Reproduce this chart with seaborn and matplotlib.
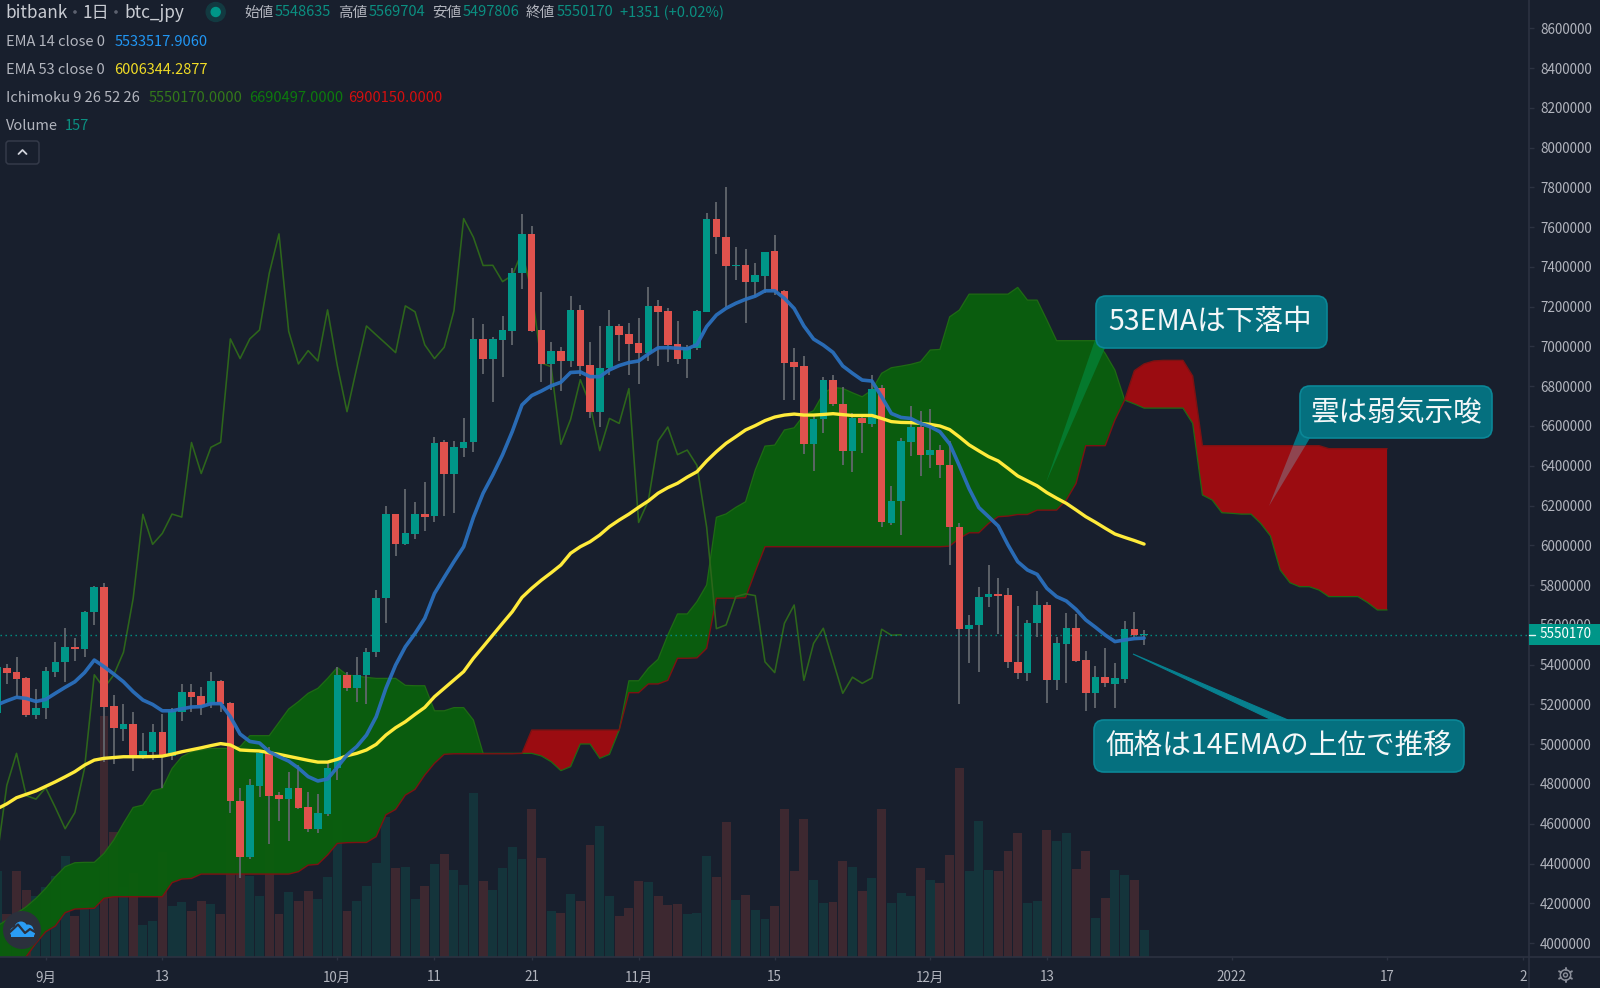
import numpy as np
import pandas as pd
import matplotlib
matplotlib.use("Agg")
import matplotlib.pyplot as plt
from matplotlib.patches import FancyBboxPatch, Polygon, Circle, Rectangle
from matplotlib.lines import Line2D
from matplotlib.transforms import IdentityTransform
import seaborn as sns

first_day = -5  # days relative to 1 Sep 2021
opens = [5155,5381,5361,5333,5147,5180,5365,5411,5487,5479,5665,5790,5192,5078,5101,4937,4962,5061,4942,5163,
 5262,5240,5202,5316,5205,4714,4434,4790,4954,4743,4726,4781,4682,4572,4649,4878,5349,5282,5348,5462,
 5733,6156,6005,6057,6157,6145,6520,6361,6488,6518,7038,6939,7034,7080,7368,7566,7083,6912,6979,6927,
 7184,6909,6672,6892,7103,7061,7016,6966,7204,7177,7011,6939,6994,7175,7643,7552,7403,7409,7326,7356,
 7478,7280,6922,6901,6508,6633,6833,6712,6476,6638,6610,6789,6110,6221,6521,6595,6456,6477,6406,6092,
 5581,5600,5739,5749,5750,5415,5360,5608,5700,5321,5502,5586,5422,5256,5337,5303,5330,5578,5548.6]
highs = [5400,5403,5440,5339,5276,5390,5514,5582,5532,5671,5795,5809,5247,5202,5163,5055,5101,5150,5180,5303,
 5301,5289,5361,5323,5214,4778,4827,4962,4984,4758,4862,4895,4758,4748,4909,5386,5365,5440,5482,5775,
 6198,6160,6282,6220,6320,6543,6530,6527,6639,7142,7113,7050,7153,7393,7666,7606,7272,7021,6996,7254,
 7209,7024,7103,7184,7113,7117,7142,7298,7234,7194,7127,7008,7184,7670,7725,7803,7499,7490,7421,7476,
 7558,7284,6992,6953,6650,6845,6855,6794,6664,6650,6856,6804,6300,6538,6700,6677,6684,6504,6527,6111,
 5650,5789,5901,5838,5784,5697,5625,5769,5714,5538,5658,5653,5471,5394,5486,5407,5621,5663,5575]
lows = [5140,5302,5239,5135,5125,5128,5339,5314,5418,5440,5599,4909,4899,5018,4863,4927,4922,4778,4920,5116,
 5163,5148,5180,5162,4656,4329,4423,4736,4498,4614,4515,4672,4557,4552,4639,4818,5269,5214,5202,5440,
 5611,5948,6001,6032,6074,6119,6148,6165,6446,6471,6862,6723,6848,7008,7288,7071,6823,6781,6778,6899,
 6853,6639,6597,6857,6929,6857,6811,6929,6902,6922,6912,6843,6983,7175,7465,7197,7334,7119,7250,7267,
 7259,6731,6731,6459,6375,6563,6700,6404,6370,6462,6596,6094,6102,6052,6449,6348,6387,6340,5901,5201,
 5410,5362,5689,5553,5385,5326,5320,5541,5209,5273,5310,5412,5169,5184,5290,5181,5306,5538,5497.8]
closes = [5386,5360,5329,5147,5180,5368,5415,5487,5479,5665,5790,5189,5080,5100,4937,4964,5061,4942,5167,5261,
 5237,5199,5316,5202,4713,4434,4793,4954,4741,4724,4781,4681,4575,4656,4880,5349,5282,5348,5462,5733,
 6156,6005,6060,6157,6142,6517,6361,6493,6518,7038,6939,7038,7083,7368,7566,7076,6912,6979,6927,7184,
 6904,6672,6892,7103,7058,7014,6969,7204,7174,7008,6939,6996,7179,7643,7549,7407,7408,7326,7357,7475,
 7277,6917,6898,6508,6633,6833,6709,6476,6638,6613,6788,6115,6224,6524,6595,6456,6479,6402,6091,5581,
 5600,5742,5756,5747,5414,5360,5608,5700,5321,5507,5583,5419,5256,5337,5306,5333,5578,5548,5550.17]
volumes = [510,255,506,396,357,412,480,598,239,327,533,1421,735,412,494,186,210,617,298,323,
 274,333,310,251,843,608,480,357,886,251,386,329,392,343,474,808,270,329,416,553,
 827,523,531,345,421,551,610,514,427,970,451,396,527,647,580,872,584,274,259,372,
 333,662,772,357,239,290,451,445,361,304,310,251,259,596,474,798,337,363,280,225,
 298,876,506,813,457,318,327,568,533,388,468,874,316,380,357,525,457,437,604,1113,
 510,804,515,506,623,733,321,333,747,686,729,521,627,231,351,515,486,457,157]
ema14 = [5198,5218,5236,5230,5215,5225,5256,5286,5314,5360,5423,5390,5353,5314,5264,5222,5200,5168,5168,5178,
 5187,5189,5204,5204,5138,5051,5014,5006,4962,4937,4915,4880,4837,4815,4825,4884,4946,4988,5046,5138,
 5281,5398,5490,5557,5633,5758,5839,5918,5993,6140,6262,6354,6455,6572,6706,6753,6776,6802,6820,6869,
 6872,6848,6848,6882,6904,6919,6927,6962,6993,6994,6991,6988,7009,7100,7158,7192,7217,7237,7253,7280,
 7280,7242,7191,7103,7037,7007,6970,6902,6865,6831,6826,6747,6663,6643,6638,6613,6596,6571,6510,6400,
 6285,6190,6144,6097,6002,5918,5876,5854,5784,5742,5720,5678,5625,5588,5549,5516,5524,5531,5533.5]
ema53 = [4675,4700,4731,4748,4765,4788,4811,4836,4862,4895,4920,4929,4933,4937,4937,4937,4938,4940,4950,4962,
 4972,4982,4993,5003,4996,4971,4968,4966,4957,4949,4939,4929,4919,4910,4910,4924,4942,4954,4971,4999,
 5046,5083,5113,5150,5185,5239,5281,5323,5365,5432,5490,5549,5608,5666,5738,5784,5825,5862,5901,5960,
 5993,6018,6052,6094,6127,6157,6191,6223,6262,6290,6312,6343,6370,6424,6471,6513,6546,6580,6602,6627,
 6645,6655,6660,6655,6655,6658,6662,6657,6653,6653,6653,6638,6622,6618,6617,6613,6608,6600,6582,6545,
 6505,6475,6446,6424,6387,6349,6324,6299,6265,6237,6211,6178,6144,6116,6086,6057,6040,6024,6006.3]
chikou = [4434,4793,4954,4741,4724,4781,4681,4575,4656,4880,5349,5282,5348,5462,5733,6156,6005,6060,6157,6142,
 6517,6361,6493,6518,7038,6939,7038,7083,7368,7566,7076,6912,6979,6927,7184,6904,6672,6892,7103,7058,
 7014,6969,7204,7174,7008,6939,6996,7179,7643,7549,7407,7408,7326,7357,7475,7277,6917,6898,6508,6633,
 6833,6709,6476,6638,6613,6788,6115,6224,6524,6595,6456,6479,6402,6091,5581,5600,5742,5756,5747,5414,
 5360,5608,5700,5321,5507,5583,5419,5256,5337,5306,5333,5578,5548,5550.17]
span_a = [4086,4116,4149,4183,4225,4275,4334,4384,4404,4406,4406,4451,4518,4602,4682,4694,4766,4778,4878,4937,
 4962,4971,4979,4979,4979,4987,5043,5043,5043,5110,5177,5214,5256,5281,5331,5386,5348,5343,5336,5331,
 5331,5331,5296,5294,5294,5168,5168,5184,5184,5122,4954,4954,4954,4954,4954,4954,4941,4912,4867,4887,
 5001,5001,4929,4949,5071,5319,5319,5382,5427,5549,5655,5655,5717,5801,6141,6158,6191,6219,6379,6499,
 6504,6580,6591,6655,6677,6764,6794,6789,6767,6747,6781,6865,6893,6901,6910,6923,6982,6985,7149,7183,
 7263,7263,7263,7263,7263,7297,7233,7233,7133,7029,7029,7029,7029,7029,6965,6881,6730,6711,6690,6690,
 6690,6690,6690,6613,6253,6228,6164,6161,6157,6157,6110,6047,5876,5812,5792,5792,5775,5742,5742,5742,
 5742,5712,5675,5675]
span_b = [3780,3830,3880,3932,3999,4057,4086,4153,4171,4173,4175,4225,4233,4233,4233,4233,4233,4233,4304,4322,
 4325,4347,4347,4347,4347,4347,4347,4347,4347,4347,4347,4359,4392,4396,4443,4501,4505,4506,4506,4535,
 4645,4672,4744,4773,4845,4904,4949,4952,4952,4952,4952,4952,4952,4952,4954,5071,5071,5071,5071,5071,
 5071,5071,5071,5071,5071,5259,5259,5303,5303,5321,5432,5432,5434,5482,5734,5734,5734,5737,5868,5993,
 5993,5993,5993,5993,5993,5993,5993,5993,5993,5993,5993,5993,5993,5993,5993,5993,5993,5993,5996,6035,
 6063,6063,6110,6144,6147,6155,6155,6177,6177,6177,6228,6311,6501,6501,6501,6630,6730,6878,6912,6927,
 6930,6930,6930,6851,6501,6501,6501,6501,6501,6501,6501,6501,6501,6501,6501,6501,6501,6486,6486,6486,
 6486,6486,6486,6486]
price_ticks = list(range(4000000, 8600001, 200000))
date_tick_days = [0, 12, 30, 40, 50, 61, 75, 91, 103, 122, 138, 152]
date_tick_labels = ["9月", "13", "10月", "11", "21", "11月", "15", "12月", "13", "2022", "17", "2"]
last_price = 5550170

BG = "#181f2d"
LINE = "#2c3241"
TXT = "#b2b5be"
TEAL = "#009688"
RED = "#e0524d"
VT = "#14343b"
VR = "#3d2830"
GREEN = "#0a5f0d"
CRED = "#9b0c11"
BOX = "#05707f"
BOXE = "#0b8797"

sns.set_theme(style="dark", rc={"axes.facecolor": BG, "figure.facecolor": BG, "savefig.facecolor": BG,
                                "axes.grid": False})
plt.rcParams["font.family"] = ["Noto Sans CJK JP", "DejaVu Sans"]

W, H = 1600, 988
fig = plt.figure(figsize=(W / 100, H / 100), dpi=100)
rect = [0, (H - 957) / H, 1529 / W, 957 / H]
ax2 = fig.add_axes(rect, zorder=0)
ax = fig.add_axes(rect, zorder=1, sharex=ax2)
ax.patch.set_visible(False)

n = len(closes)
days = np.arange(first_day, first_day + n)
o, h, l, c = [np.array(a) * 1000 for a in (opens, highs, lows, closes)]
up = c >= o
cloud_days = np.arange(first_day, first_day + len(span_a))
a_s, b_s = np.array(span_a) * 1000, np.array(span_b) * 1000

# volume
vol = pd.DataFrame({"d": days, "v": volumes, "dir": np.where(up, "up", "down")})
sns.barplot(data=vol, x="d", y="v", hue="dir", palette={"up": VT, "down": VR}, native_scale=True,
            dodge=False, width=0.92, saturation=1, errorbar=None, legend=False, linewidth=0, ax=ax2)
ax2.set_ylim(0, 957 * 5.9)
ax2.set_yticks([])
ax2.set_xlabel("")
ax2.set_ylabel("")
for s in ax2.spines.values():
    s.set_visible(False)

# cloud
ax.fill_between(cloud_days, a_s, b_s, where=a_s >= b_s, interpolate=True, color=GREEN, alpha=0.96, lw=0, zorder=1)
ax.fill_between(cloud_days, a_s, b_s, where=a_s <= b_s, interpolate=True, color=CRED, lw=0, zorder=1)
sns.lineplot(x=cloud_days, y=a_s, color="#1f6a14", lw=0.9, errorbar=None, ax=ax, zorder=1.2)
sns.lineplot(x=cloud_days, y=b_s, color="#7c1212", lw=1.0, errorbar=None, ax=ax, zorder=1.2)

# lagging line
sns.lineplot(x=np.arange(first_day, first_day + len(chikou)), y=np.array(chikou) * 1000, color="#2d661b",
             lw=1.15, errorbar=None, ax=ax, zorder=1.5)

# last price dotted line
ax.axhline(last_price, color=TEAL, lw=1.0, ls=(0, (1, 2.6)), zorder=1.6)

# candles
ax.vlines(days, l, h, color="#62676d", lw=1.3, zorder=2)
body_bottom = np.minimum(o, c)
body_h = np.maximum(np.abs(c - o), 8000)
ax.bar(days, body_h, bottom=body_bottom, width=0.78, color=np.where(up, TEAL, RED), linewidth=0, zorder=2.2)

# EMAs
sns.lineplot(x=days, y=np.array(ema53) * 1000, color="#ffeb3b", lw=2.4, errorbar=None, ax=ax, zorder=3)
sns.lineplot(x=days, y=np.array(ema14) * 1000, color="#2b70bd", lw=2.6, alpha=0.95, errorbar=None, ax=ax, zorder=3.1)

# axes
ax.set_xlim(-4.70, 152.6)
ax.set_ylim(3930000, 8742000)
ax.yaxis.tick_right()
ax.set_yticks(price_ticks)
ax.set_yticklabels([str(v) for v in price_ticks])
ax.set_xticks(date_tick_days)
ax.set_xticklabels(date_tick_labels)
ax.tick_params(axis="y", length=3.6, width=1, color=LINE, labelcolor=TXT, labelsize=9.7, pad=4.3, right=True)
ax.tick_params(axis="x", length=2.5, width=1, color=LINE, labelcolor=TXT, labelsize=9.7, pad=7.2, bottom=True)
ax.set_xlabel("")
ax.set_ylabel("")
ax2.tick_params(axis="x", bottom=False, labelbottom=False)
for name, s in ax.spines.items():
    s.set_visible(name in ("right", "bottom"))
    s.set_color(LINE)
    s.set_linewidth(1.2)


def F(x, y):
    return x / W, 1 - y / H


def P(x, y):
    return x, H - y


def label(x, y, s, color=TXT, size=10.5, **kw):
    fx, fy = F(x, y + 1.5)
    fig.text(fx, fy, s, color=color, fontsize=size, va="center", ha="left", **kw)


# header
label(5.5, 11.5, "bitbank", "#c9ccd3", 12.4)
label(83, 11.5, "1日", "#c9ccd3", 12.4)
label(124.5, 11.5, "btc_jpy", "#c9ccd3", 12.4)
for x_ in (75, 116):
    fig.add_artist(Circle(P(x_, 12), 1.1, color="#5d6270", transform=IdentityTransform(), zorder=5))
fig.add_artist(Circle(P(215.7, 12), 9.5, color="#123a41", transform=IdentityTransform(), zorder=5))
fig.add_artist(Circle(P(215.7, 12), 4.5, color=TEAL, transform=IdentityTransform(), zorder=6))
VAL = "#0b8f81"
for x_, s in [(244.8, "始値"), (338.3, "高値"), (432, "安値"), (525.5, "終値")]:
    label(x_, 11, s)
for x_, s in [(274.5, "5548635"), (369, "5569704"), (462.6, "5497806"), (556.2, "5550170"), (619.5, "+1351 (+0.02%)")]:
    label(x_, 11, s, VAL)
label(6, 41, "EMA 14 close 0")
label(114.5, 41, "5533517.9060", "#2196f3")
label(6, 69, "EMA 53 close 0")
label(114.5, 69, "6006344.2877", "#f0dc26")
label(6, 97, "Ichimoku 9 26 52 26")
label(149, 97, "5550170.0000", "#33781a")
label(248.8, 97, "6690497.0000", "#0d7a0d")
label(348.2, 97, "6900150.0000", "#d30f0f")
label(6, 125, "Volume")
label(65, 125, "157", VAL)

# collapse button
fig.add_artist(FancyBboxPatch(P(6, 164), 33, 23, boxstyle="round,pad=0,rounding_size=3", fc=BG, ec="#343a49",
                              lw=1.1, transform=IdentityTransform(), zorder=5))
fig.add_artist(Line2D([18.5, 22.5, 26.5], [H - 154, H - 150, H - 154], color="#d1d4dc", lw=1.3,
                      transform=IdentityTransform(), zorder=6))


# callouts
def poly(pts, color, z=5, edge=False):
    fig.add_artist(Polygon([P(*p) for p in pts], closed=True, fc=color, ec=color if edge else "none", lw=0.8,
                           transform=IdentityTransform(), zorder=z))


poly([(1046, 482.7), (1095, 340), (1105, 348)], "#05792d")
poly([(1133, 654), (1272, 720), (1288, 720)], "#07808f", edge=True)
poly([(1293, 445.7), (1300, 428), (1310, 438), (1305.4, 445.7)], BOX)
poly([(1269, 506), (1293, 445.7), (1305.4, 445.7)], "#8f4550")


def box(x0, y0, x1, y1, tx, s):
    fig.add_artist(FancyBboxPatch(P(x0, y1), x1 - x0, y1 - y0, boxstyle="round,pad=0,rounding_size=10", fc=BOX,
                                  ec=BOXE, lw=1.2, transform=IdentityTransform(), zorder=6))
    fx, fy = F(tx, (y0 + y1) / 2)
    fig.text(fx, fy, s, color="#f4f7f8", fontsize=20.6, va="center", ha="left", zorder=7)


box(1096, 296, 1327, 348, 1108, "53EMAは下落中")
box(1300, 386, 1492, 438, 1311, "雲は弱気示唆")
box(1094, 720, 1464, 772, 1106, "価格は14EMAの上位で推移")

# last price tag
fig.add_artist(Rectangle(P(1529, 645), 71, 21, fc=TEAL, ec="none", transform=IdentityTransform(), zorder=5))
fig.text(1540 / W, 1 - 634.5 / H, "5550170", color="#ffffff", fontsize=9.7, va="center", ha="left", zorder=6)
fig.add_artist(Line2D([1529, 1535], [H - 634.5, H - 634.5], color="#e6f4f2", lw=1, transform=IdentityTransform(), zorder=6))

# bottom line across the price scale
fig.add_artist(Line2D([1529, 1600], [H - 957, H - 957], color=LINE, lw=1.2, transform=IdentityTransform(), zorder=5))
fig.add_artist(Line2D([1529, 1529], [0, H - 957], color=LINE, lw=1.2, transform=IdentityTransform(), zorder=5))

# gear icon
gx, gy = 1565.5, 975
fig.add_artist(Circle(P(gx, gy), 5.2, fc="none", ec="#8a8e99", lw=1.1, transform=IdentityTransform(), zorder=5))
fig.add_artist(Circle(P(gx, gy), 2.0, fc="none", ec="#8a8e99", lw=1.0, transform=IdentityTransform(), zorder=5))
for ang in np.deg2rad(np.arange(0, 360, 60) + 30):
    fig.add_artist(Line2D([gx + 5.2 * np.cos(ang), gx + 7.4 * np.cos(ang)],
                          [H - gy + 5.2 * np.sin(ang), H - gy + 7.4 * np.sin(ang)],
                          color="#8a8e99", lw=1.4, transform=IdentityTransform(), zorder=5))

# logo badge
fig.add_artist(Circle(P(22, 930), 19, fc="#2b303c", ec="none", transform=IdentityTransform(), zorder=5))
for cx, cy, r in [(15, 932, 5), (21, 928, 6.5), (28, 930, 5.5), (31, 933, 4)]:
    fig.add_artist(Circle(P(cx, cy), r, fc="#2a9df4", ec="none", transform=IdentityTransform(), zorder=6))
fig.add_artist(Rectangle(P(11, 937), 23, 6, fc="#2a9df4", ec="none", transform=IdentityTransform(), zorder=6))
fig.add_artist(Line2D([10, 18, 25, 30, 35], [H - 932, H - 924.5, H - 933, H - 929, H - 932], color="#2b303c", lw=1.6,
                      transform=IdentityTransform(), zorder=7))

fig.savefig("out.png", dpi=100)
